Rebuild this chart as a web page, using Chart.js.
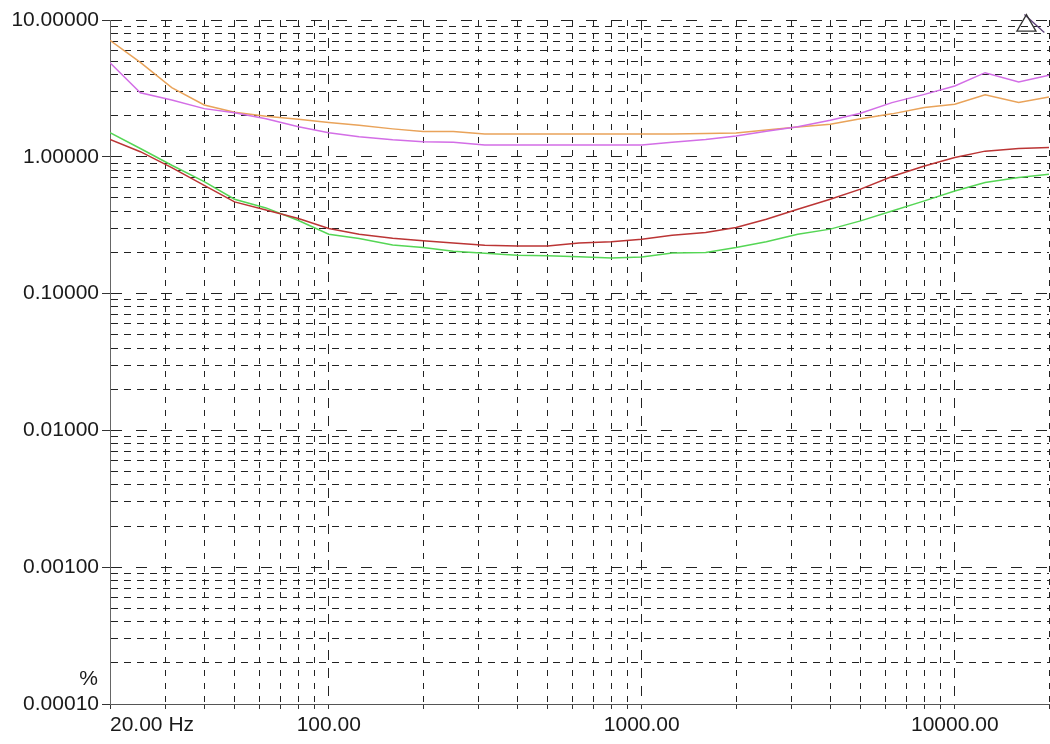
<!DOCTYPE html>
<html>
<head>
<meta charset="utf-8">
<title>Distortion vs frequency</title>
<script src="https://cdn.jsdelivr.net/npm/chart.js@4/dist/chart.umd.min.js"></script>
<style>
    html, body { margin: 0; padding: 0; background: #fff; overflow: hidden; }
    #wrap { position: relative; width: 1053px; height: 744px; }
</style>
</head>
<body>
<div id="wrap"><canvas id="thdChart"></canvas></div>
<script>
// 1/3 octave frequencies (Hz)
const freqs = [20, 25, 31.5, 40, 50, 63, 80, 100, 125, 160, 200, 250, 315, 400, 500, 630, 800,
    1000, 1250, 1600, 2000, 2500, 3150, 4000, 5000, 6300, 8000, 10000, 12500, 16000, 20000];

// values in %
const orangeVals = [7.1, 4.9, 3.2, 2.39, 2.12, 1.98, 1.88, 1.78, 1.70, 1.60, 1.53, 1.53, 1.47, 1.47, 1.47, 1.47, 1.47,
    1.47, 1.47, 1.48, 1.49, 1.57, 1.65, 1.73, 1.90, 2.06, 2.29, 2.42, 2.84, 2.49, 2.74];
const magentaVals = [4.87, 2.94, 2.6, 2.25, 2.10, 1.90, 1.66, 1.50, 1.40, 1.33, 1.29, 1.28, 1.22, 1.22, 1.22, 1.22, 1.22,
    1.22, 1.28, 1.34, 1.42, 1.54, 1.66, 1.85, 2.08, 2.49, 2.86, 3.29, 4.12, 3.52, 3.94];
const redVals = [1.34, 1.09, 0.834, 0.619, 0.468, 0.409, 0.354, 0.299, 0.272, 0.254, 0.243, 0.234, 0.226, 0.223, 0.223, 0.234, 0.239,
    0.25, 0.267, 0.28, 0.304, 0.35, 0.414, 0.49, 0.58, 0.717, 0.857, 0.987, 1.10, 1.15, 1.17];
const greenVals = [1.50, 1.15, 0.867, 0.659, 0.49, 0.423, 0.342, 0.272, 0.253, 0.227, 0.217, 0.204, 0.197, 0.191, 0.189, 0.186, 0.182,
    0.185, 0.198, 0.20, 0.217, 0.239, 0.272, 0.296, 0.34, 0.402, 0.476, 0.563, 0.648, 0.705, 0.745];

// cursor marker (top right)
const markerPoint = [{ x: 16940, y: 9.1 }];
const markerLine = [{ x: 16690, y: 10.97 }, { x: 19320, y: 8.1 }];

// ticks / grid
const xTickVals = [20, 30, 40, 50, 60, 70, 80, 90, 100, 200, 300, 400, 500, 600, 700, 800, 900,
    1000, 2000, 3000, 4000, 5000, 6000, 7000, 8000, 9000, 10000, 20000];
const xTickLabels = { 20: '20.00 Hz', 100: '100.00', 1000: '1000.00', 10000: '10000.00' };
const yDecades = [0.0001, 0.001, 0.01, 0.1, 1, 10];
const yUnit = '%';

document.addEventListener('DOMContentLoaded', function() {
    const ctx = document.getElementById('thdChart');
    const fontFamily = '"Liberation Sans", Arial, sans-serif';

    const yTickVals = [];
    yDecades.forEach(d => {
        if (d === 10) { yTickVals.push(10); return; }
        for (let m = 1; m <= 9; m++) yTickVals.push(+(d * m).toPrecision(3));
    });

    const isDecade = v => Math.abs(Math.log10(v) - Math.round(Math.log10(v))) < 1e-6;
    const toPoints = vals => freqs.map((f, i) => ({ x: f, y: vals[i] }));

    const unitLabel = {
        id: 'unitLabel',
        afterDraw(chart) {
            const y = chart.scales.y;
            const c = chart.ctx;
            c.save();
            c.font = '21px ' + fontFamily;
            c.fillStyle = '#1a1a1a';
            c.textAlign = 'right';
            c.textBaseline = 'middle';
            c.fillText(yUnit, y.right - 12, y.getPixelForValue(0.0001) - 25);
            c.restore();
        }
    };

    const lineDs = (vals, color) => ({
        data: toPoints(vals),
        borderColor: color,
        borderWidth: 1.5,
        pointRadius: 0,
        tension: 0,
        fill: false
    });

    new Chart(ctx, {
        type: 'line',
        data: {
            datasets: [
                {
                    data: markerPoint,
                    showLine: false,
                    pointStyle: 'triangle',
                    pointRadius: 11,
                    borderColor: '#333',
                    backgroundColor: 'rgba(0,0,0,0)',
                    borderWidth: 1.3,
                    clip: false
                },
                {
                    data: markerLine,
                    borderColor: '#5c3f78',
                    borderWidth: 1.3,
                    pointRadius: 0,
                    clip: false
                },
                lineDs(redVals, '#bb3535'),
                lineDs(greenVals, '#55d655'),
                lineDs(magentaVals, '#d36ee6'),
                lineDs(orangeVals, '#e9a35a')
            ]
        },
        options: {
            responsive: true,
            maintainAspectRatio: false,
            animation: false,
            layout: { autoPadding: false, padding: { top: 20, right: 0, bottom: 0, left: 0 } },
            plugins: {
                legend: { display: false },
                tooltip: { enabled: false }
            },
            scales: {
                x: {
                    type: 'logarithmic',
                    min: 20,
                    max: 20000,
                    afterBuildTicks: scale => { scale.ticks = xTickVals.map(v => ({ value: v })); },
                    afterFit: scale => { scale.height = 40; },
                    ticks: {
                        autoSkip: false,
                        maxRotation: 0,
                        align: 'inner',
                        padding: 4,
                        color: '#1a1a1a',
                        font: { family: fontFamily, size: 21 },
                        callback: v => xTickLabels[v] || ''
                    },
                    grid: {
                        color: '#222',
                        lineWidth: 1,
                        tickLength: 5,
                        tickColor: '#333',
                        tickBorderDash: []
                    },
                    border: {
                        color: '#555',
                        width: 1,
                        dash: c => (c.tick && isDecade(c.tick.value)) ? [10, 8] : [6, 7]
                    }
                },
                y: {
                    type: 'logarithmic',
                    min: 0.0001,
                    max: 10,
                    afterBuildTicks: scale => { scale.ticks = yTickVals.map(v => ({ value: v })); },
                    afterFit: scale => { scale.width = 110; },
                    ticks: {
                        autoSkip: false,
                        padding: 3,
                        color: '#1a1a1a',
                        font: { family: fontFamily, size: 21 },
                        callback: v => isDecade(v) ? Number(v).toFixed(5) : ''
                    },
                    grid: {
                        color: '#222',
                        lineWidth: 1,
                        tickLength: 8,
                        tickColor: c => (c.tick && isDecade(c.tick.value)) ? '#333' : 'rgba(0,0,0,0)',
                        tickBorderDash: []
                    },
                    border: {
                        color: '#666',
                        width: 1,
                        dash: c => (c.tick && isDecade(c.tick.value)) ? [11, 14] : [7, 6]
                    }
                }
            }
        },
        plugins: [unitLabel]
    });
});
</script>
</body>
</html>
